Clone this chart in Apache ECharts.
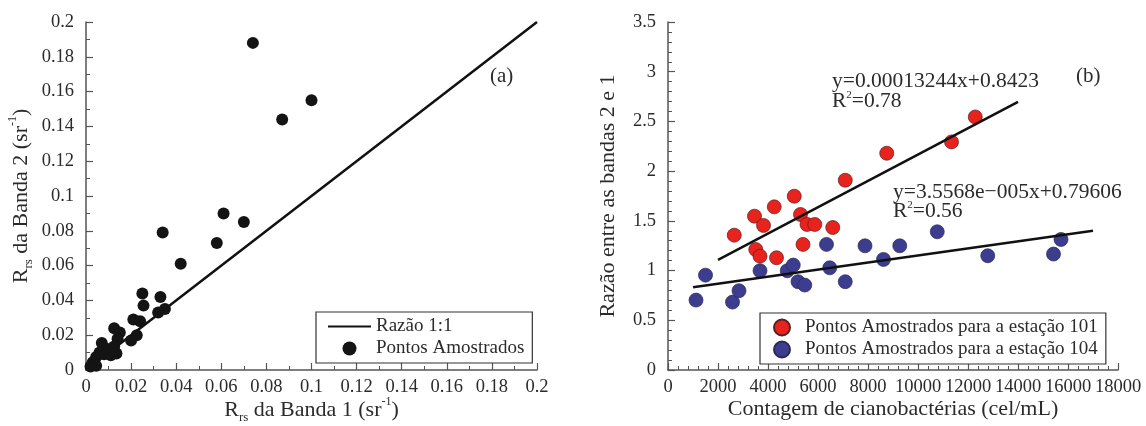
<!DOCTYPE html>
<html>
<head>
<meta charset="utf-8">
<script src="https://cdn.jsdelivr.net/npm/echarts@6/dist/echarts.min.js"></script>
<style>html,body{margin:0;padding:0;background:#fff}#c{width:1146px;height:426px}</style>
</head>
<body>
<div id="c"></div>
<script>
// ---- Data (a) ----
var ptsA = [
  [0.074,0.188],[0.100,0.155],[0.087,0.144],[0.061,0.090],[0.070,0.085],
  [0.034,0.079],[0.058,0.073],[0.042,0.061],[0.025,0.044],[0.0255,0.037],
  [0.033,0.042],[0.032,0.033],[0.035,0.035],[0.021,0.029],[0.024,0.028],
  [0.0225,0.020],[0.020,0.017],[0.0125,0.024],[0.015,0.0215],[0.014,0.018],
  [0.007,0.0155],[0.0095,0.012],[0.0125,0.0135],[0.0135,0.0095],[0.011,0.0085],
  [0.008,0.009],[0.0045,0.0075],[0.003,0.0045],[0.0045,0.0025],[0.002,0.002],
  [0.006,0.010],[0.010,0.010]
];
var line11 = [[0,0],[0.2,0.2]];
// ---- Data (b) ----
var pts101 = [
  [2650,1.356],[3460,1.547],[3820,1.454],[4250,1.641],[5050,1.748],
  [5300,1.564],[5560,1.464],[5870,1.464],[6590,1.433],[3510,1.212],
  [3680,1.145],[4340,1.129],[5400,1.263],[7090,1.909],[8750,2.180],
  [11340,2.294],[12290,2.545]
];
var pts104 = [
  [1120,0.703],[1500,0.954],[2580,0.683],[2840,0.797],[3680,0.998],
  [4770,0.998],[5010,1.055],[5200,0.888],[5470,0.854],[6340,1.263],
  [6470,1.028],[7090,0.888],[7880,1.249],[8620,1.112],[9270,1.249],
  [10770,1.390],[12790,1.149],[15420,1.166],[15720,1.313]
];
var fit101 = [[2000,1.107],[14000,2.696]];
var fit104 = [[1000,0.832],[17000,1.401]];
var xTicksA = {min:0,max:0.2,interval:0.02};
var yTicksA = {min:0,max:0.2,interval:0.02};
var xTicksB = {min:0,max:18000,interval:2000};
var yTicksB = {min:0,max:3.5,interval:0.5};
var eq101 = ['y=0.00013244x+0.8423','0.78'];
var eq104 = ['y=3.5568e\u2212005x+0.79606','0.56'];

var FF = '"Liberation Serif","Times New Roman",serif';
var TXT = '#2b2b2b';
var AX = '#555';
var rich = {
  a:{fontFamily:FF,fontSize:22,color:TXT,lineHeight:28},
  sub:{fontFamily:FF,fontSize:13,color:TXT,verticalAlign:'bottom',lineHeight:13},
  sup:{fontFamily:FF,fontSize:12,color:TXT,verticalAlign:'top',lineHeight:12}
};
function axisCommon(t, minorSplit){
  return {
    type:'value', min:t.min, max:t.max, interval:t.interval,
    axisLine:{show:true,lineStyle:{color:AX,width:1.5}},
    axisTick:{show:true,inside:true,length:7,lineStyle:{color:AX,width:1.2}},
    minorTick:{show:true,splitNumber:minorSplit,length:4,lineStyle:{color:AX,width:1}},
    splitLine:{show:false},
    axisLabel:{fontFamily:FF,fontSize:18.5,color:TXT,margin:8,hideOverlap:false,formatter:function(v){return String(+(+v).toFixed(4));}},
    nameLocation:'middle',
    nameMoveOverlap:false
  };
}
var xa0 = axisCommon(xTicksA,2); xa0.gridIndex=0; xa0.name='{a|R}{sub|rs}{a| da Banda 1 (sr}{sup|-1}{a|)}'; xa0.nameGap=26; xa0.nameTextStyle={rich:rich};
var ya0 = axisCommon(yTicksA,2); ya0.gridIndex=0; ya0.axisLabel.margin=12; ya0.name='{a|R}{sub|rs}{a| da Banda 2 (sr}{sup|-1}{a|)}'; ya0.nameGap=51; ya0.nameTextStyle={rich:rich};
var xa1 = axisCommon(xTicksB,5); xa1.gridIndex=1; xa1.name='Contagem de cianobactérias (cel/mL)'; xa1.nameGap=28; xa1.nameTextStyle={fontFamily:FF,fontSize:22,color:TXT};
var ya1 = axisCommon(yTicksB,5); ya1.gridIndex=1; ya1.axisLabel.margin=12; ya1.name='Razão entre as bandas 2 e 1'; ya1.nameGap=49; ya1.nameTextStyle={fontFamily:FF,fontSize:22,color:TXT};

var legendCommon = {
  orient:'vertical', backgroundColor:'#fff', borderColor:'#333', borderWidth:1.2,
  textStyle:{fontFamily:FF,fontSize:19,color:TXT}, itemGap:3, borderRadius:0
};

var option = {
  animation:false,
  backgroundColor:'#fff',
  grid:[
    {left:86,top:22,width:451,height:348,containLabel:false,outerBoundsMode:'none'},
    {left:668,top:22,width:450,height:348,containLabel:false,outerBoundsMode:'none'}
  ],
  xAxis:[xa0,xa1],
  yAxis:[ya0,ya1],
  legend:[
    Object.assign({},legendCommon,{left:316,top:312,padding:[5,8,5,11],itemWidth:43,itemHeight:14,
      data:[{name:'Razão 1:1',itemStyle:{opacity:0}},'Pontos Amostrados']}),
    Object.assign({},legendCommon,{left:760,top:313,padding:[5,8,5,13],itemWidth:36,itemHeight:16,
      data:['Pontos Amostrados para a estação 101','Pontos Amostrados para a estação 104']})
  ],
  series:[
    {name:'Razão 1:1',type:'line',xAxisIndex:0,yAxisIndex:0,data:line11,symbol:'none',itemStyle:{color:'#111',opacity:0},lineStyle:{color:'#111',width:2.5,opacity:1},z:2},
    {name:'Pontos Amostrados',type:'scatter',xAxisIndex:0,yAxisIndex:0,data:ptsA,symbolSize:12,itemStyle:{color:'#141414',opacity:1},z:3},
    {name:'fit101',type:'line',xAxisIndex:1,yAxisIndex:1,data:fit101,symbol:'none',lineStyle:{color:'#111',width:2.5},z:4},
    {name:'fit104',type:'line',xAxisIndex:1,yAxisIndex:1,data:fit104,symbol:'none',lineStyle:{color:'#111',width:2.5},z:4},
    {name:'Pontos Amostrados para a estação 101',type:'scatter',xAxisIndex:1,yAxisIndex:1,data:pts101,symbolSize:14,itemStyle:{color:'#e8231d',borderColor:'#5a2020',borderWidth:0.7,opacity:1},z:3},
    {name:'Pontos Amostrados para a estação 104',type:'scatter',xAxisIndex:1,yAxisIndex:1,data:pts104,symbolSize:14,itemStyle:{color:'#3c3d8e',borderColor:'#2a2a55',borderWidth:0.7,opacity:1},z:3}
  ],
  graphic:[
    {type:'text',left:490,top:66,style:{text:'(a)',font:'21px '+FF,fill:TXT}},
    {type:'text',left:1076,top:66,style:{text:'(b)',font:'21px '+FF,fill:TXT}},
    {type:'text',left:832,top:70,style:{text:eq101[0],font:'21.5px '+FF,fill:TXT}},
    {type:'text',left:832,top:90,style:{text:'{r|R}{s|2}{r|='+eq101[1]+'}',rich:{r:{font:'21.5px '+FF,fill:TXT},s:{font:'11px '+FF,fill:TXT,verticalAlign:'top'}}}},
    {type:'text',left:893,top:181,style:{text:eq104[0],font:'21.5px '+FF,fill:TXT}},
    {type:'text',left:893,top:200,style:{text:'{r|R}{s|2}{r|='+eq104[1]+'}',rich:{r:{font:'21.5px '+FF,fill:TXT},s:{font:'11px '+FF,fill:TXT,verticalAlign:'top'}}}}
  ]
};
var chart = echarts.init(document.getElementById('c'),null,{renderer:'canvas'});
chart.setOption(option);
</script>
</body>
</html>
